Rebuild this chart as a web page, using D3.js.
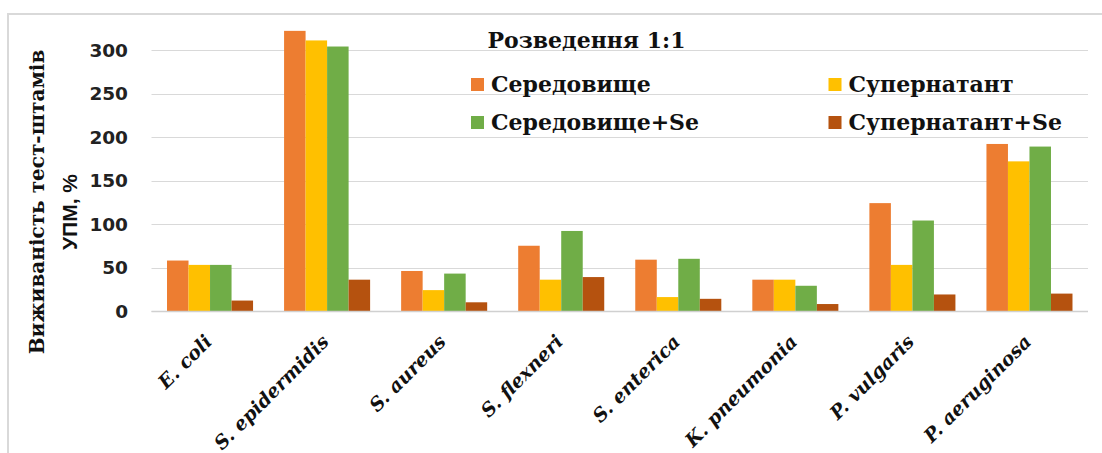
<!DOCTYPE html>
<html><head><meta charset="utf-8">
<script src="https://cdn.jsdelivr.net/npm/d3@7"></script>
<style>
html,body{margin:0;padding:0;background:#fff;}
svg{display:block;}
</style></head>
<body>
<svg id="chart" width="1102" height="453"></svg>
<script>
const categories = ["E. coli","S. epidermidis","S. aureus","S. flexneri","S. enterica","K. pneumonia","P. vulgaris","P. aeruginosa"];
const seriesNames = ["Середовище","Супернатант","Середовище+Se","Супернатант+Se"];
const seredovyshche = [58, 322, 46, 75, 59, 36, 124, 192];
const supernatant = [53, 311, 24, 36, 16, 36, 53, 172];
const seredovyshcheSe = [53, 304, 43, 92, 60, 29, 104, 189];
const supernatantSe = [12, 36, 10, 39, 14, 8, 19, 20];
const seriesColors = ["#ED7D31","#FFC000","#70AD47","#B5520F"];
const yTicks = [0, 50, 100, 150, 200, 250, 300];
const chartTitle = "Розведення 1:1";
const yTitle1 = "Виживаність тест-штамів";
const yTitle2 = "УПМ, %";

const seriesValues = [seredovyshche, supernatant, seredovyshcheSe, supernatantSe];
const svg = d3.select("#chart");

// outer frame
svg.append("rect").attr("x", 8).attr("y", 14).attr("width", 1110).attr("height", 460)
  .attr("fill", "none").attr("stroke", "#D9D9D9").attr("stroke-width", 2);

const x = d3.scaleBand().domain(categories).range([151.5, 1088]).paddingInner(0.265).paddingOuter(0.1325);
const xs = d3.scaleBand().domain(seriesNames).range([0, x.bandwidth()]);
const y = d3.scaleLinear().domain([0, 300]).range([311, 50]);

// gridlines
svg.append("g").selectAll("line").data(yTicks).join("line")
  .attr("x1", 151.5).attr("x2", 1088)
  .attr("y1", d => Math.round(y(d)) + 0.5).attr("y2", d => Math.round(y(d)) + 0.5)
  .attr("stroke", "#D9D9D9").attr("stroke-width", 1.2);

// y tick labels
svg.append("g").selectAll("text").data(yTicks).join("text")
  .attr("x", 128).attr("y", d => y(d)).attr("dy", "0.36em")
  .attr("text-anchor", "end")
  .style("font-family", "'DejaVu Sans', sans-serif").style("font-weight", "bold").style("font-size", "18.5px")
  .attr("fill", "#222")
  .text(d => d);

// bars
const groups = svg.append("g").selectAll("g").data(categories).join("g")
  .attr("transform", d => `translate(${x(d)},0)`);
groups.selectAll("rect").data((c, i) => seriesNames.map((s, k) => ({s, k, v: seriesValues[k][i]}))).join("rect")
  .attr("x", d => xs(d.s)).attr("width", xs.bandwidth())
  .attr("y", d => y(d.v)).attr("height", d => y(0) - y(d.v))
  .attr("fill", d => seriesColors[d.k]);

// axis line
svg.append("line").attr("x1", 151.5).attr("x2", 1088).attr("y1", Math.round(y(0)) + 0.5).attr("y2", Math.round(y(0)) + 0.5)
  .attr("stroke", "#D0D0D0").attr("stroke-width", 1.5);

// x labels
svg.append("g").selectAll("text").data(categories).join("text")
  .attr("transform", d => `translate(${x(d) + x.bandwidth() / 2 + 3},343) rotate(-45)`)
  .attr("text-anchor", "end")
  .style("font-family", "'DejaVu Serif', serif").style("font-weight", "bold").style("font-style", "italic").style("font-size", "19px")
  .attr("fill", "#111")
  .text(d => d);

// y title
svg.append("text").attr("transform", "translate(44,202) rotate(-90)").attr("text-anchor", "middle")
  .style("font-family", "'DejaVu Serif', serif").style("font-weight", "bold").style("font-size", "20px")
  .attr("fill", "#111").text(yTitle1);
svg.append("text").attr("transform", "translate(77,212) rotate(-90)").attr("text-anchor", "middle")
  .style("font-family", "'Liberation Sans', sans-serif").style("font-weight", "bold").style("font-size", "21px")
  .attr("fill", "#111").text(yTitle2);

// title
svg.append("text").attr("x", 586.5).attr("y", 48).attr("text-anchor", "middle")
  .style("font-family", "'DejaVu Serif', serif").style("font-weight", "bold").style("font-size", "22px")
  .attr("fill", "#111").text(chartTitle);

// legend
const legendPos = [[471, 84.5], [828.5, 84.5], [471, 122.5], [828.5, 122.5]];
const lg = svg.append("g").selectAll("g").data(seriesNames).join("g")
  .attr("transform", (d, i) => `translate(${legendPos[i][0]},${legendPos[i][1]})`);
lg.append("rect").attr("x", 0).attr("y", -6.5).attr("width", 13).attr("height", 13)
  .attr("fill", (d, i) => seriesColors[i]);
lg.append("text").attr("x", 20).attr("y", 0).attr("dy", "0.35em")
  .style("font-family", "'DejaVu Serif', serif").style("font-weight", "bold").style("font-size", "22px")
  .attr("fill", "#111").text(d => d);
</script>
</body></html>
